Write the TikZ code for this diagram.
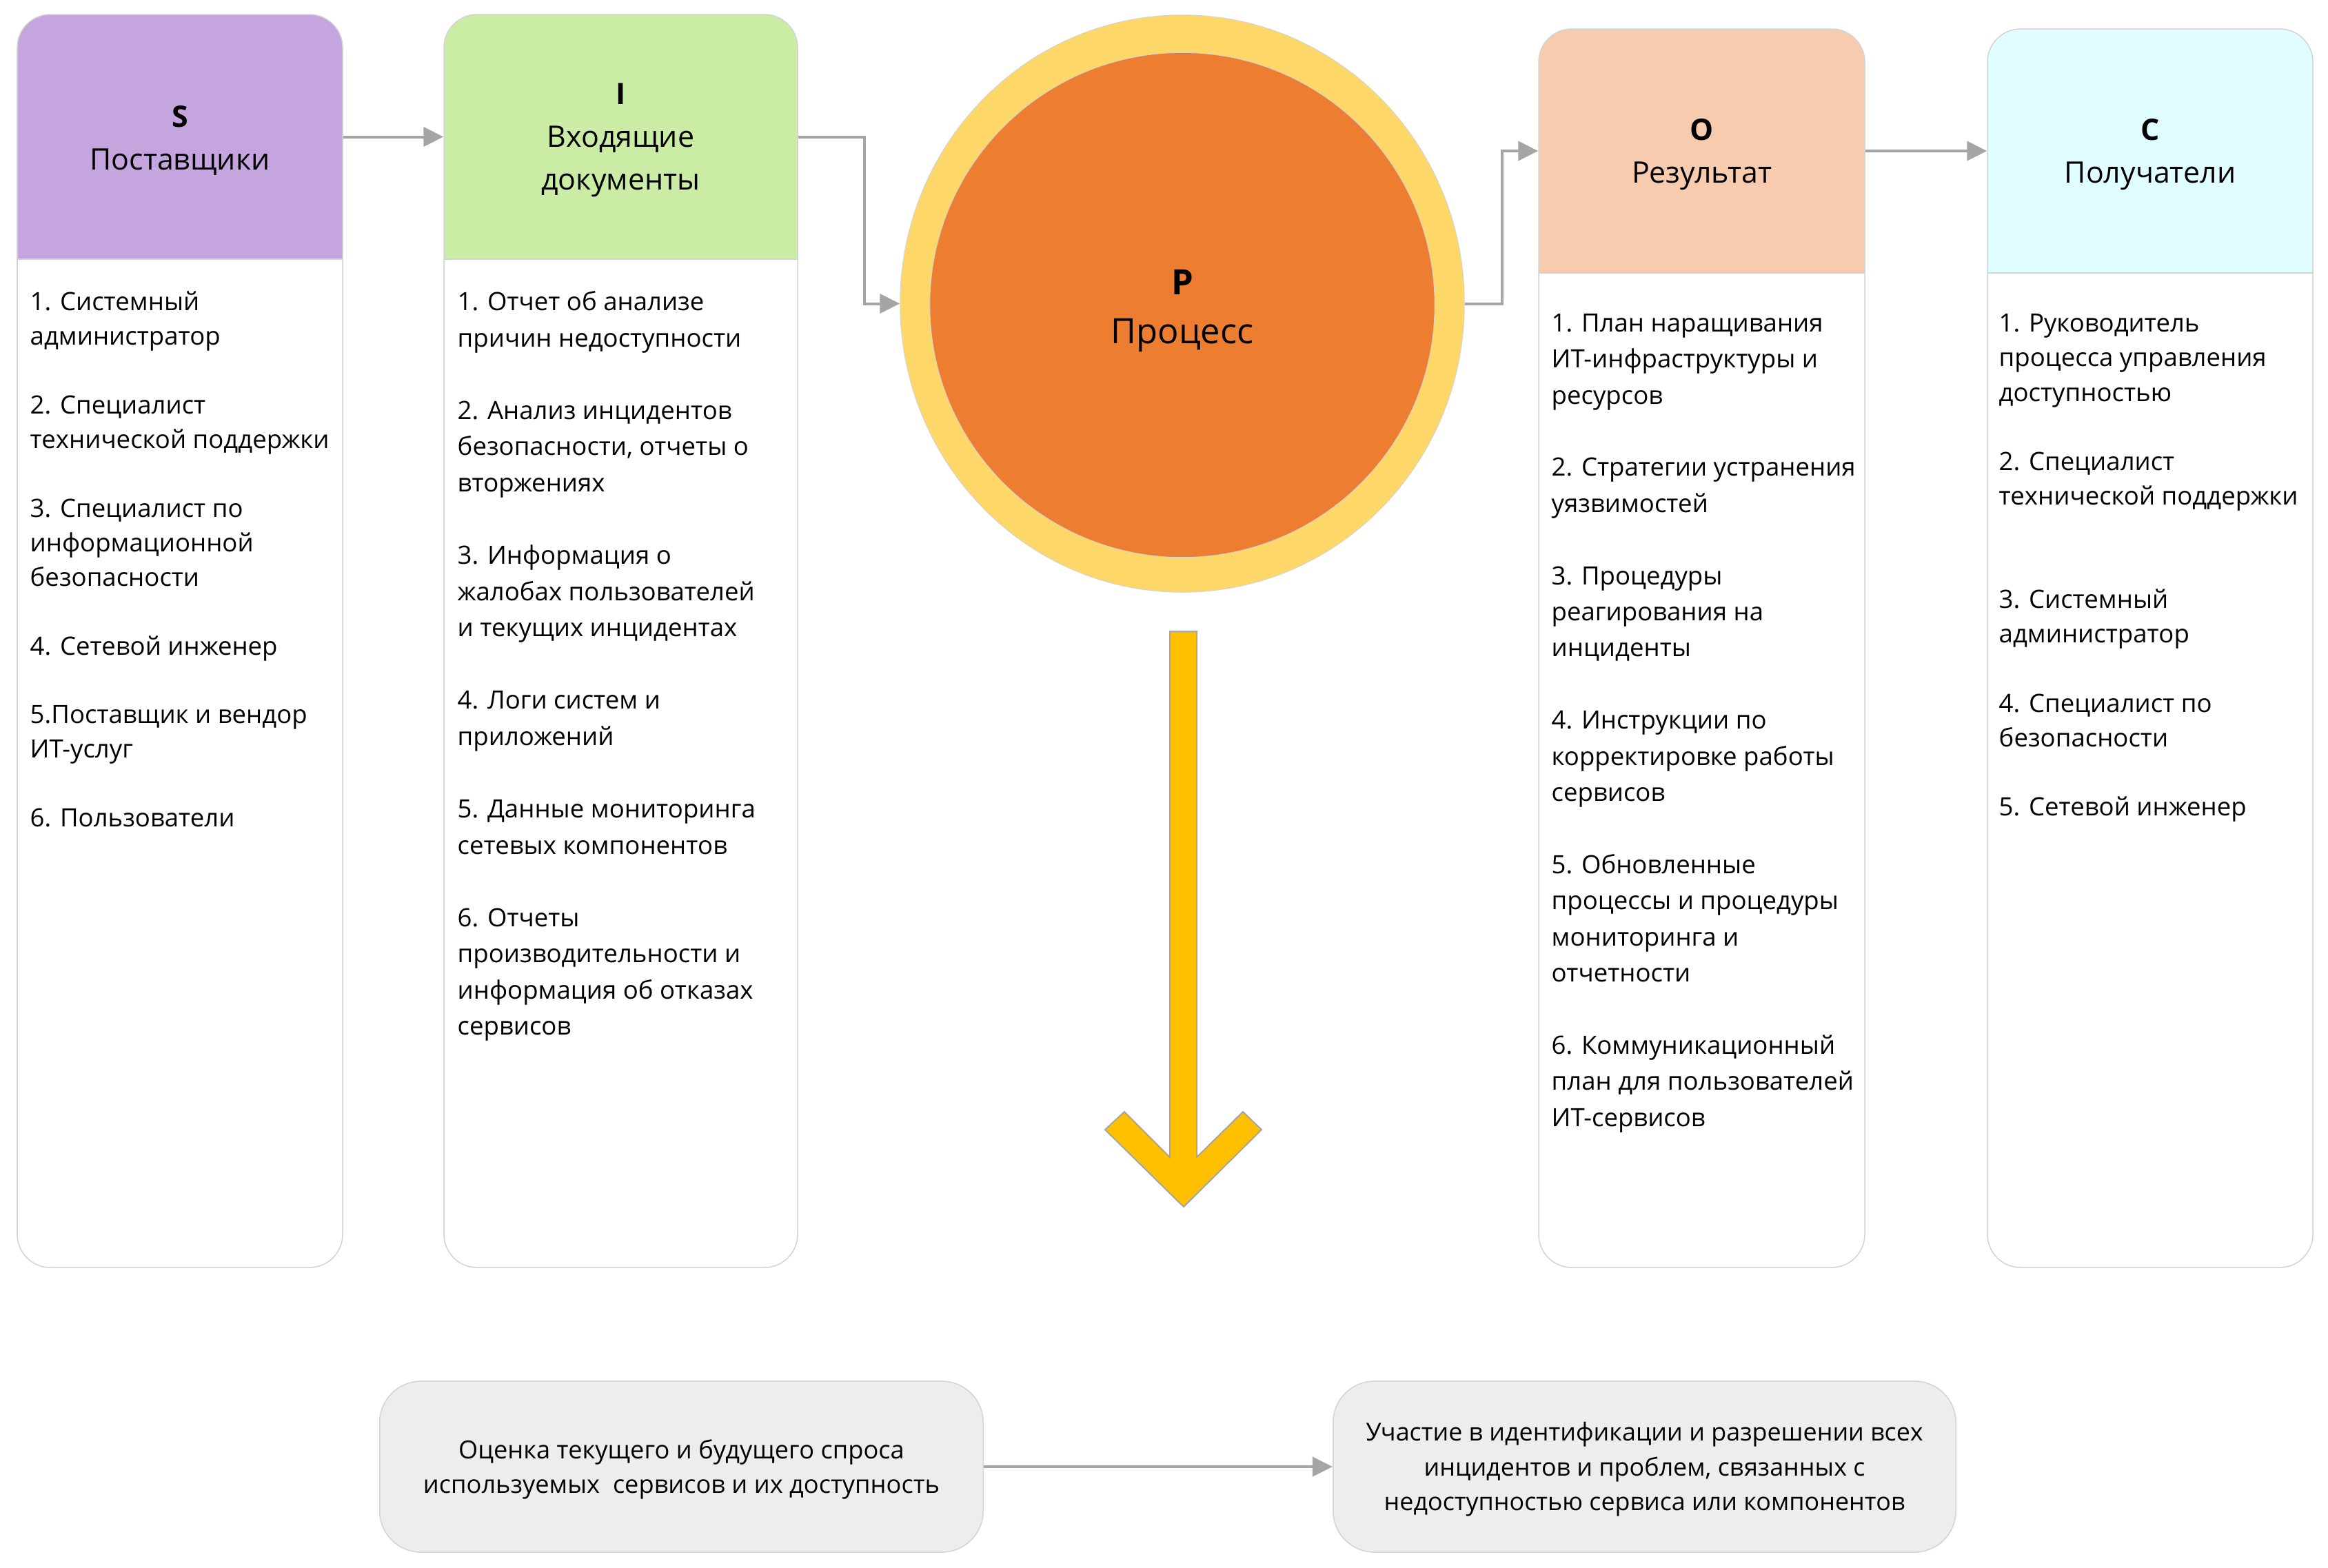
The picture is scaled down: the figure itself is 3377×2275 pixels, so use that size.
\documentclass[tikz,border=0pt]{standalone}
\usepackage{fontspec}
\setmainfont{Open Sans}
\usetikzlibrary{arrows.meta,shapes.geometric}
\definecolor{cS}{HTML}{C5A5DD}
\definecolor{cI}{HTML}{CBECA5}
\definecolor{cO}{HTML}{F7CBAD}
\definecolor{cC}{HTML}{E0FEFF}
\definecolor{cOuter}{HTML}{FDD868}
\definecolor{cInner}{HTML}{ED7D31}
\definecolor{cArrow}{HTML}{FFC000}
\definecolor{cGray}{HTML}{A5A5A5}
\definecolor{cLine}{HTML}{D3D3D3}
\definecolor{cBottom}{HTML}{EDEDED}
\begin{document}
\begin{tikzpicture}[x=0.01cm, y=-0.01cm,
  colbox/.style 2 args={draw=cLine, line width=0.015cm, fill=white, rounded corners=0.48cm, inner sep=0,
    minimum width=#1*0.01cm, minimum height=#2*0.01cm},
  hdrfill/.style 2 args={path picture={
    \fill[#1, sharp corners] (path picture bounding box.north west) rectangle ([yshift=-#2*0.01cm]path picture bounding box.north east);
    \draw[cLine, line width=0.015cm, sharp corners] ([yshift=-#2*0.01cm]path picture bounding box.north west) -- ([yshift=-#2*0.01cm]path picture bounding box.north east);}},
  head/.style 2 args={minimum width=#1*0.01cm, minimum height=#2*0.01cm, inner sep=0, align=center,
    font=\fontsize{12.2}{17.6}\selectfont},
  listtext/.style={anchor=north west, inner sep=0, align=left},
  conn/.style={draw=cGray, line width=0.04cm, -{Triangle[length=0.29cm,width=0.28cm]}},
  bottombox/.style={draw=cLine, fill=cBottom, rounded corners=0.6cm, minimum height=2.48cm,
    align=center, inner sep=0, line width=0.015cm},
]
\useasboundingbox (0,0) rectangle (3377,2275);

% column boxes
\node[colbox={472}{1818}, hdrfill={cS}{355}] (S) at (261,930) {};
\node[colbox={513}{1818}, hdrfill={cI}{355}] (I) at (900.5,930) {};
\node[colbox={473}{1797}, hdrfill={cO}{354}] (O) at (2468.5,940.5) {};
\node[colbox={472}{1797}, hdrfill={cC}{354}] (C) at (3119,940.5) {};

% headers (text centres sit 5px below the connector level)
\node[head={472}{355}] (Sh) at (261,203.5) {\textbf{S}\\Поставщики};
\node[head={513}{355}] (Ih) at (900.5,203.5) {\textbf{I}\\Входящие\\документы};
\node[head={473}{354}] (Oh) at (2468.5,224) {\textbf{O}\\Результат};
\node[head={472}{354}] (Ch) at (3119,224) {\textbf{C}\\Получатели};

% process circle
\node[ellipse, fill=cOuter, draw=cLine, line width=0.01cm, minimum width=8.18cm, minimum height=8.37cm, inner sep=0] (P) at (1715,440.5) {};
\node[circle, fill=cInner, draw=cLine, line width=0.01cm, minimum size=7.32cm, inner sep=0] (Pin) at (1715,442.5) {};
\node[align=center, inner sep=0, font=\fontsize{14.4}{20.2}\selectfont] (Ptext) at (1715,451) {\textbf{P}\\Процесс};

% connectors
\draw[conn] ([yshift=0.05cm]Sh.east) -- ([yshift=0.05cm]Ih.west);
\draw[conn] ([yshift=0.05cm]Ih.east) -- ++(96,0) |- (P.west);
\draw[conn] (P.east) -- ++(54,0) |- ([yshift=0.05cm]Oh.west);
\draw[conn] ([yshift=0.05cm]Oh.east) -- ([yshift=0.05cm]Ch.west);

% big arrow
\path[fill=cArrow, draw=cGray, line width=0.02cm]
  (1697,916) -- (1736,916) -- (1736,1679) -- (1803,1613) -- (1830,1639) -- (1717,1751)
  -- (1603,1639) -- (1631,1613) -- (1697,1679) -- cycle;

% lists
\node[listtext, font=\fontsize{10.4}{14.2}\selectfont] (Sl) at (43,415)
 {\strut 1. Системный\\администратор\\[14.2pt]2. Специалист\\технической поддержки\\[14.2pt]3. Специалист по\\информационной\\безопасности\\[14.2pt]4. Сетевой инженер\\[14.2pt]5.Поставщик и вендор\\ИТ-услуг\\[14.2pt]6. Пользователи};

\node[listtext, font=\fontsize{10.4}{14.95}\selectfont] (Il) at (663,413)
 {\strut 1. Отчет об анализе\\причин недоступности\\[14.95pt]2. Анализ инцидентов\\безопасности, отчеты о\\вторжениях\\[14.95pt]3. Информация о\\жалобах пользователей\\и текущих инцидентах\\[14.95pt]4. Логи систем и\\приложений\\[14.95pt]5. Данные мониторинга\\сетевых компонентов\\[14.95pt]6. Отчеты\\производительности и\\информация об отказах\\сервисов};

\node[listtext, font=\fontsize{10.4}{14.9}\selectfont] (Ol) at (2250,444)
 {\strut 1. План наращивания\\ИТ-инфраструктуры и\\ресурсов\\[14.9pt]2. Стратегии устранения\\уязвимостей\\[14.9pt]3. Процедуры\\реагирования на\\инциденты\\[14.9pt]4. Инструкции по\\корректировке работы\\сервисов\\[14.9pt]5. Обновленные\\процессы и процедуры\\мониторинга и\\отчетности\\[14.9pt]6. Коммуникационный\\план для пользователей\\ИТ-сервисов};

\node[listtext, font=\fontsize{10.4}{14.25}\selectfont] (Cl) at (2899,446)
 {\strut 1. Руководитель\\процесса управления\\доступностью\\[14.25pt]2. Специалист\\технической поддержки\\[28.5pt]3. Системный\\администратор\\[14.25pt]4. Специалист по\\безопасности\\[14.25pt]5. Сетевой инженер};

% bottom
\node[bottombox, minimum width=8.75cm] (B1) at (988.5,2128) {};
\node[bottombox, minimum width=9.03cm] (B2) at (2385.5,2128) {};
\node[align=center, inner sep=0, font=\fontsize{10.3}{14.1}\selectfont] (B1t) at (988.5,2132)
 {Оценка текущего и будущего спроса\\используемых\ \ сервисов и их доступность};
\node[align=center, inner sep=0, font=\fontsize{10.2}{14.4}\selectfont] (B2t) at (2385.5,2132)
 {Участие в идентификации и разрешении всех\\инцидентов и проблем, связанных с\\недоступностью сервиса или компонентов};
\draw[conn] (B1) -- (B2);
\end{tikzpicture}
\end{document}
